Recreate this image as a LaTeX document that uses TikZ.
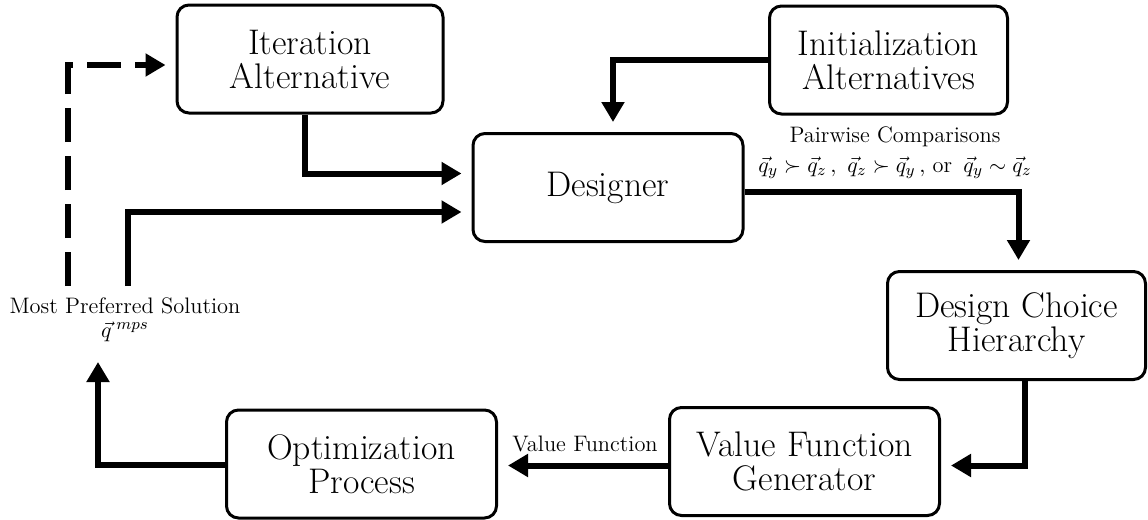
\documentclass[tikz,border=0pt]{standalone}
\usepackage{amsmath,amssymb}
\usepackage{tikz}
\usetikzlibrary{arrows.meta,positioning,calc}
\tikzset{
  blk/.style={draw,line width=1.5pt,rounded corners=6pt,align=center,minimum width=#1,minimum height=54pt,inner sep=2pt,font=\fontsize{17.8}{17}\selectfont},
  blk/.default={133pt},
  flow/.style={line width=3pt,-{Triangle[length=10pt,width=11pt]},shorten >=5pt},
  lbl/.style={font=\fontsize{11.2}{12}\selectfont,align=center},
}

\begin{document}
\begin{tikzpicture}[x=0.5pt,y=-0.5pt]
 \useasboundingbox (0,0) rectangle (1148,520);
 % ---- blocks
 \node[blk] (iter) at (310,59){Iteration\\Alternative};
 \node[blk=119pt] (init) at (888.5,60){Initialization\\Alternatives};
 \node[blk=135pt] (des) at (608,187.5){Designer};
 \node[blk=129pt] (dch) at (1016.5,325.5){Design Choice\\Hierarchy};
 \node[blk=135pt] (vfg) at (804.5,461.5){Value Function\\Generator};
 \node[blk=135pt] (opt) at (361.5,464){Optimization\\Process};
 % ---- labels
 \node[lbl] (pair) at (895,153){Pairwise Comparisons\\[3pt]$\vec{q}_y \succ \vec{q}_z\,,\ \vec{q}_z \succ \vec{q}_y\,,$ or\, $\vec{q}_y \sim \vec{q}_z$};
 \node[lbl] (vfl) at (585,444){Value Function};
 \node[lbl] (mps) at (125,320){Most Preferred Solution\\[0pt]$\vec{q}^{\;mps}$};
 \coordinate (mpsin) at (98,352);
 \coordinate (fb) at (128,286);
 \coordinate (dfb) at (68,286);
 % ---- connectors
 \draw[flow] (init.west) -| ([xshift=2.5pt]des.north);
 \draw[flow] ([xshift=-2.5pt]iter.south) |- ([yshift=7pt]des.west);
 \draw[flow] ([yshift=-2pt]des.east) -| ([xshift=1pt]dch.north);
 \draw[flow] ([xshift=4pt]dch.south) |- ([yshift=-2pt]vfg.east);
 \draw[flow] ([yshift=-2pt]vfg.west) -- ([yshift=-2pt]vfg.west -| opt.east);
 \draw[flow] ([yshift=-0.5pt]opt.west) -| (mpsin);
 \draw[flow] (fb) |- ([yshift=-12.25pt]des.west);
 \draw[flow,dash pattern=on 17pt off 7pt] (dfb) |- ([yshift=-3pt]iter.west);
\end{tikzpicture}
\end{document}
